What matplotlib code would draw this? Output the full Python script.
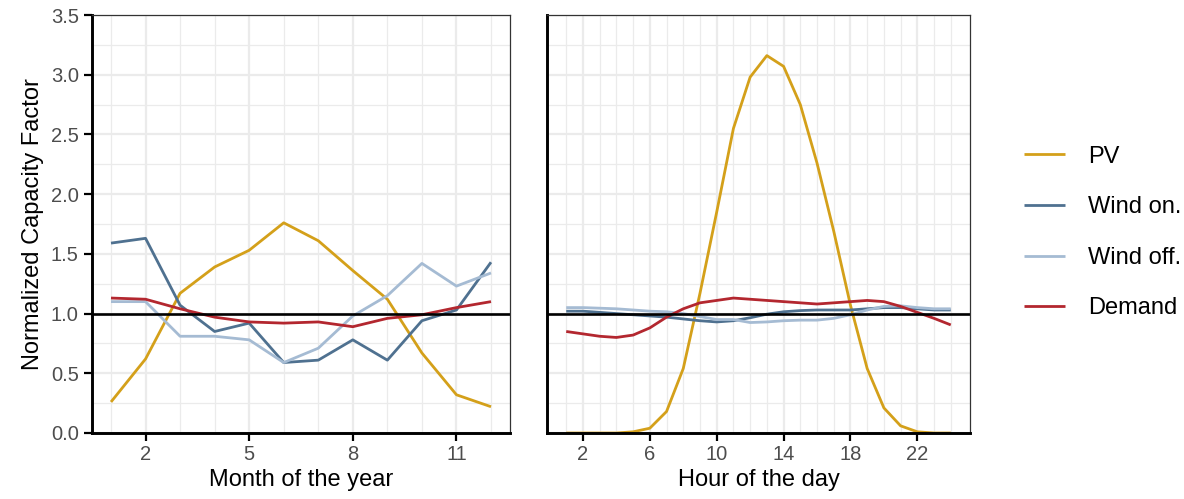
import numpy as np
import matplotlib
matplotlib.use("Agg")
import matplotlib.pyplot as plt
from matplotlib.ticker import FixedLocator, FormatStrFormatter

plt.rcParams["font.family"] = ["Liberation Sans", "DejaVu Sans"]

# ── Data ──────────────────────────────────────────────────────────────────────
months = list(range(1, 13))
pv_month   = [0.26, 0.62, 1.17, 1.39, 1.53, 1.76, 1.61, 1.36, 1.12, 0.67, 0.32, 0.22]
won_month  = [1.59, 1.63, 1.07, 0.85, 0.92, 0.59, 0.61, 0.78, 0.61, 0.94, 1.03, 1.43]
woff_month = [1.10, 1.10, 0.81, 0.81, 0.78, 0.59, 0.71, 0.98, 1.15, 1.42, 1.23, 1.34]
dem_month  = [1.13, 1.12, 1.04, 0.97, 0.93, 0.92, 0.93, 0.89, 0.96, 0.99, 1.05, 1.10]

hours = list(range(1, 25))
pv_hour   = [0, 0, 0, 0, 0.01, 0.04, 0.18, 0.54, 1.17, 1.85, 2.55, 2.98,
             3.16, 3.07, 2.75, 2.26, 1.69, 1.07, 0.54, 0.21, 0.06, 0.01, 0, 0]
won_hour  = [1.02, 1.02, 1.01, 1.00, 0.99, 0.98, 0.97, 0.955, 0.94, 0.93, 0.94, 0.965,
             0.995, 1.015, 1.025, 1.03, 1.03, 1.03, 1.04, 1.05, 1.05, 1.04, 1.03, 1.03]
woff_hour = [1.05, 1.05, 1.045, 1.04, 1.03, 1.02, 1.015, 1.0, 0.975, 0.95, 0.95, 0.925,
             0.93, 0.94, 0.945, 0.945, 0.96, 0.99, 1.03, 1.06, 1.065, 1.05, 1.04, 1.04]
dem_hour  = [0.85, 0.83, 0.81, 0.80, 0.82, 0.88, 0.97, 1.04, 1.09, 1.11, 1.13, 1.12,
             1.11, 1.10, 1.09, 1.08, 1.09, 1.10, 1.11, 1.10, 1.06, 1.01, 0.96, 0.905]

labels = ["PV", "Wind on.", "Wind off.", "Demand"]
colors = ["#D4A01A", "#4F7190", "#A5BBD3", "#B3272F"]

# ── Figure ────────────────────────────────────────────────────────────────────
W, H = 1184, 499
fig = plt.figure(figsize=(W / 100, H / 100), dpi=100)
ax1 = fig.add_axes([92 / W, 1 - 433 / H, 418 / W, 418 / H])
ax2 = fig.add_axes([547 / W, 1 - 433 / H, 423 / W, 418 / H])

GRID = "#EBEBEB"
TICK_COL = "#4D4D4D"


def style(ax, x, major, show_y):
    ax.set_ylim(0, 3.5)
    span = x[-1] - x[0]
    ax.set_xlim(x[0] - 0.05 * span, x[-1] + 0.05 * span)
    ax.xaxis.set_major_locator(FixedLocator(major))
    ax.xaxis.set_minor_locator(FixedLocator([v for v in x if v not in major]))
    ax.yaxis.set_major_locator(FixedLocator(np.arange(0, 3.51, 0.5)))
    ax.yaxis.set_minor_locator(FixedLocator(np.arange(0.25, 3.5, 0.5)))
    ax.yaxis.set_major_formatter(FormatStrFormatter("%.1f"))
    ax.grid(which="major", color=GRID, lw=1.6, zorder=0)
    ax.grid(which="minor", color=GRID, lw=0.9, zorder=0)
    ax.set_axisbelow(True)
    for s in ("top", "right"):
        ax.spines[s].set_color("#333333")
        ax.spines[s].set_linewidth(0.9)
    for s in ("left", "bottom"):
        ax.spines[s].set_color("black")
        ax.spines[s].set_linewidth(2.1)
    for sp in ax.spines.values():
        sp.set_zorder(6)
    ax.tick_params(which="minor", length=0)
    ax.tick_params(axis="x", which="major", length=5.5, width=1.6, color="black",
                   labelsize=14.5, labelcolor=TICK_COL, pad=3.5)
    if show_y:
        ax.tick_params(axis="y", which="major", length=5.5, width=1.6, color="black",
                       labelsize=14.5, labelcolor=TICK_COL, pad=4)
    else:
        ax.tick_params(axis="y", which="major", length=0, labelleft=False)
    ax.set_facecolor("white")


for ax, x, data in (
    (ax1, months, [pv_month, won_month, woff_month, dem_month]),
    (ax2, hours, [pv_hour, won_hour, woff_hour, dem_hour]),
):
    for ys, c, lab in zip(data, colors, labels):
        ax.plot(x, ys, color=c, lw=2.0, label=lab, zorder=3,
                solid_joinstyle="round", solid_capstyle="butt")
    ax.axhline(1.0, color="black", lw=1.9, zorder=4)

style(ax1, months, [2, 5, 8, 11], True)
style(ax2, hours, [2, 6, 10, 14, 18, 22], False)

ax1.set_xlabel("Month of the year", fontsize=17, color="black", labelpad=3)
ax2.set_xlabel("Hour of the day", fontsize=17, color="black", labelpad=3)
ax1.set_ylabel("Normalized Capacity Factor", fontsize=17, color="black", labelpad=5)

handles, labs = ax1.get_legend_handles_labels()
fig.legend(handles, labs, loc="center left",
           bbox_to_anchor=(1024 / W, 1 - 232.5 / H),
           frameon=False, fontsize=17, handlelength=1.75,
           handletextpad=0.95, labelspacing=1.21, borderpad=0,
           borderaxespad=0)

fig.savefig("out.png", dpi=100, facecolor="white")
plt.close(fig)
